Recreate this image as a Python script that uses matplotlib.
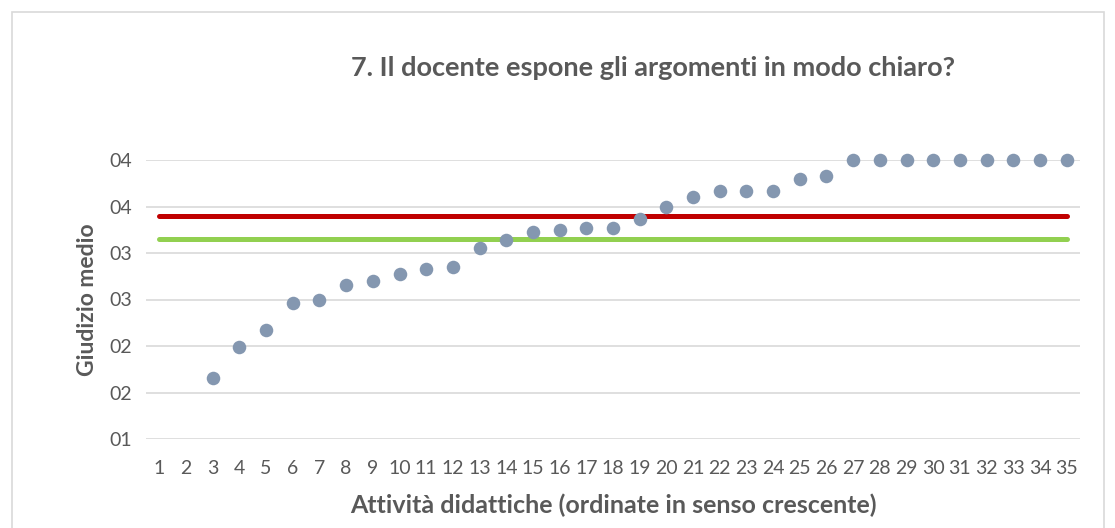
import numpy as np
import matplotlib
matplotlib.use("Agg")
import matplotlib.pyplot as plt
from matplotlib.ticker import FixedLocator, FuncFormatter
from matplotlib.patches import Rectangle

plt.rcParams['font.family'] = ['Lato', 'DejaVu Sans']

# activities 1..35 (first two have no value)
attivita = list(range(1, 36))
giudizio = [np.nan, np.nan, 1.66, 1.99, 2.17, 2.46, 2.50, 2.66, 2.70, 2.77,
            2.83, 2.85, 3.05, 3.14, 3.23, 3.25, 3.27, 3.27, 3.37, 3.50,
            3.60, 3.67, 3.67, 3.67, 3.80, 3.83, 4.00, 4.00, 4.00, 4.00,
            4.00, 4.00, 4.00, 4.00, 4.00]
media_rossa = 3.40   # red reference line
media_verde = 3.155  # green reference line
y_ticks = [1.0, 1.5, 2.0, 2.5, 3.0, 3.5, 4.0]

TXT = "#595959"

fig = plt.figure(figsize=(11.15, 5.28), dpi=100)
ax = fig.add_axes([146 / 1115, 1 - 439 / 528, (1080 - 146) / 1115, (439 - 160) / 528])

# outer chart border
fig.patches.append(Rectangle((12 / 1115, -0.01), (1104 - 12) / 1115, 1 - 12 / 528 + 0.01,
                             transform=fig.transFigure, fill=False,
                             edgecolor="#d9d9d9", linewidth=1.2))

ax.plot([attivita[0], attivita[-1]], [media_rossa, media_rossa], color="#C00000",
        linewidth=3.6, solid_capstyle="round", zorder=3)
ax.plot([attivita[0], attivita[-1]], [media_verde, media_verde], color="#92D050",
        linewidth=3.6, solid_capstyle="round", zorder=3)
ax.scatter(attivita, giudizio, s=95, color="#8497B0", zorder=4, clip_on=False,
           linewidths=0)

ax.set_xlim(0.5, 35.5)
ax.set_ylim(1.0, 4.0)
ax.set_xticks(attivita)
ax.yaxis.set_major_locator(FixedLocator(y_ticks))
# excel "00" format rounds half away from zero
ax.yaxis.set_major_formatter(FuncFormatter(lambda v, p: "%02d" % int(np.floor(v + 0.5))))
ax.grid(axis="y", color="#d9d9d9", linewidth=1.2)
ax.set_axisbelow(True)
for s in ax.spines.values():
    s.set_visible(False)
ax.tick_params(length=0, labelsize=14, labelcolor=TXT)
ax.tick_params(axis="y", pad=10)
ax.tick_params(axis="x", pad=15)

ax.set_xlabel("Attività didattiche (ordinate in senso crescente)", fontsize=18,
              fontweight="bold", color=TXT, labelpad=12)
ax.set_ylabel("Giudizio medio", fontsize=16.5, fontweight="bold", color=TXT, labelpad=8)

fig.text(653 / 1115, 1 - 68 / 528, "7. Il docente espone gli argomenti in modo chiaro?",
         ha="center", va="center", fontsize=19.5, fontweight="bold", color=TXT)

fig.savefig("out.png", dpi=100)
